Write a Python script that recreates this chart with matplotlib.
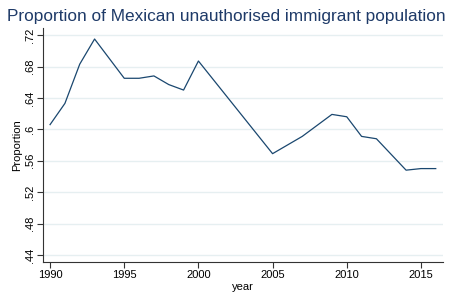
import matplotlib
matplotlib.use('Agg')
import matplotlib.pyplot as plt

# data
years = [1990, 1991, 1992, 1993, 1995, 1996, 1997, 1998, 1999, 2000,
         2005, 2007, 2009, 2010, 2011, 2012, 2014, 2015, 2016]
proportion = [0.606, 0.633, 0.683, 0.715, 0.665, 0.665, 0.668, 0.657, 0.650, 0.687,
              0.569, 0.591, 0.619, 0.616, 0.591, 0.588, 0.548, 0.550, 0.550]

xticks = [1990, 1995, 2000, 2005, 2010, 2015]
yticks = [0.44, 0.48, 0.52, 0.56, 0.60, 0.64, 0.68, 0.72]
ytick_labels = ['.44', '.48', '.52', '.56', '.6', '.64', '.68', '.72']

plt.rcParams['font.family'] = ['Liberation Sans', 'DejaVu Sans']

fig = plt.figure(figsize=(4.49, 2.95), dpi=100)
ax = fig.add_axes([0.096, 0.112, 0.891, 0.793])

ax.plot(years, proportion, color='#1a476f', linewidth=0.9)

ax.set_xlim(1989.53, 2016.5)
ax.set_ylim(0.4311, 0.729)
ax.set_xticks(xticks)
ax.set_xticklabels([str(y) for y in xticks], fontsize=8)
ax.set_yticks(yticks)
ax.set_yticklabels(ytick_labels, fontsize=8, rotation=90, va='center')

ax.grid(axis='y', color='#e6eff1', linewidth=1)
ax.set_axisbelow(True)
for side in ['top', 'right']:
    ax.spines[side].set_visible(False)
for side in ['left', 'bottom']:
    ax.spines[side].set_color('#333333')
    ax.spines[side].set_linewidth(0.8)
ax.tick_params(direction='out', length=4, width=0.8, color='#333333', pad=2)

ax.set_xlabel('year', fontsize=8, labelpad=1)
ax.set_ylabel('Proportion', fontsize=8, labelpad=2)
fig.suptitle('Proportion of Mexican unauthorised immigrant population',
             x=0.505, y=0.968, fontsize=12.4, color='#1e3a68')

fig.savefig('out.png', dpi=100)
